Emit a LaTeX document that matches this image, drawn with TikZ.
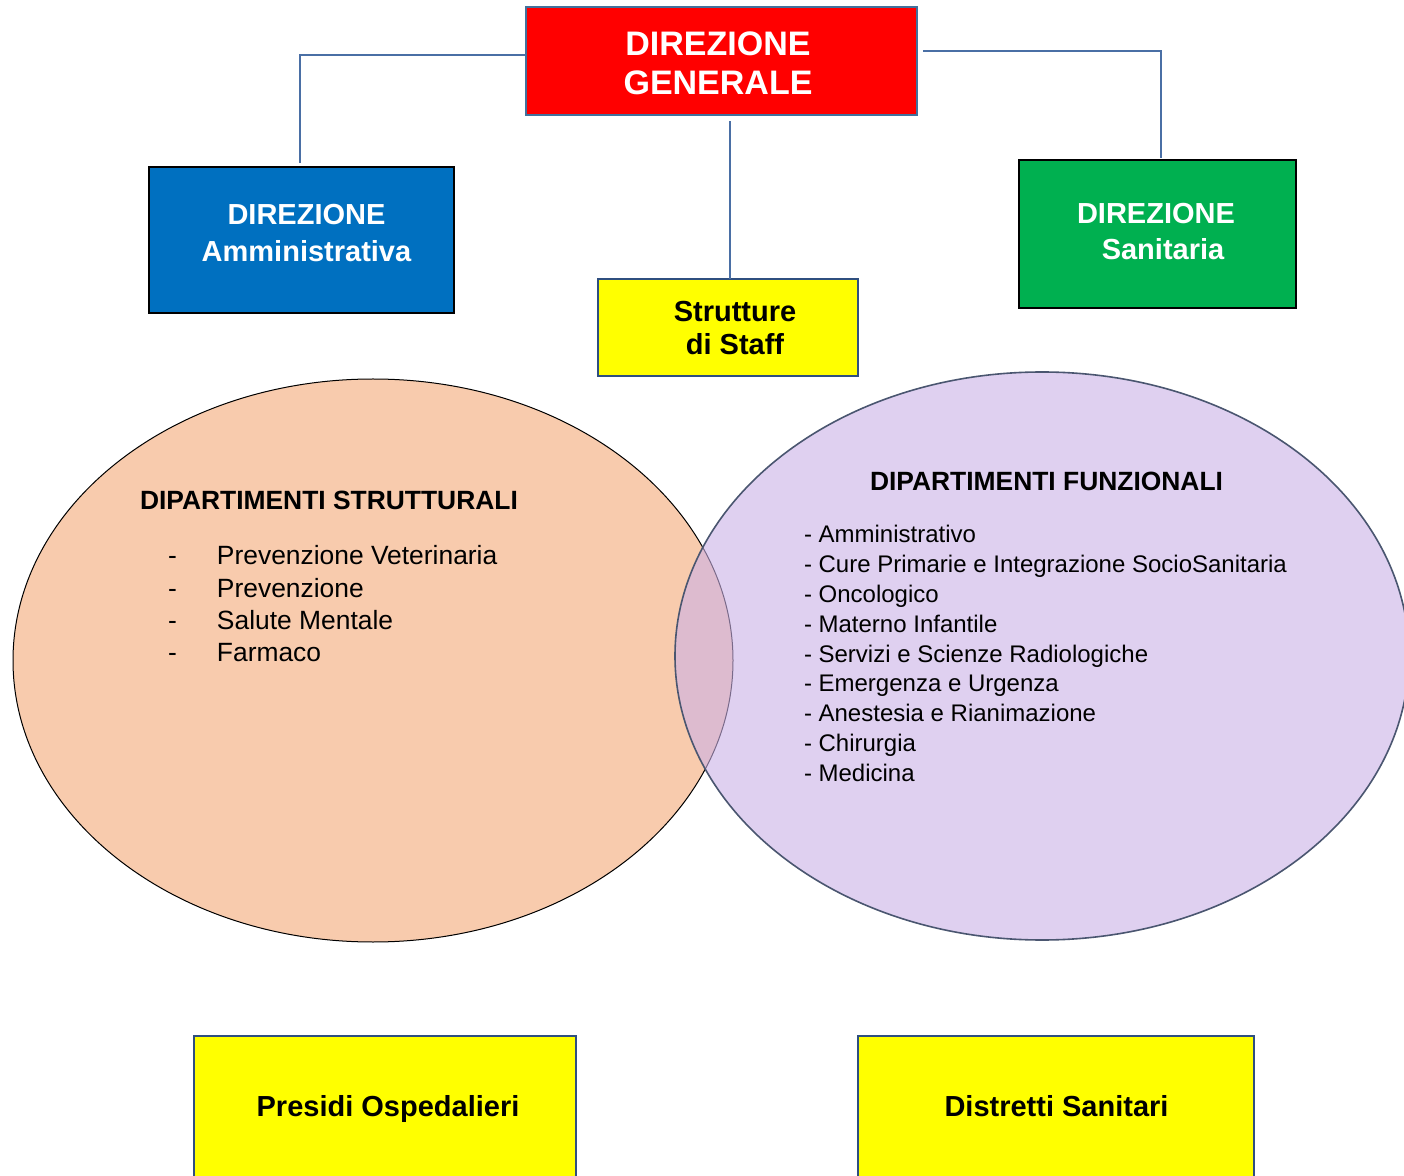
\documentclass[tikz,border=0pt]{standalone}
\usepackage{fontspec}
\setmainfont{Liberation Sans}
\usetikzlibrary{shapes.geometric}
\definecolor{dgred}{HTML}{FF0000}
\definecolor{dablue}{HTML}{0070C0}
\definecolor{dsgreen}{HTML}{00B050}
\definecolor{boxyellow}{HTML}{FFFF00}
\definecolor{connblue}{HTML}{4A6FA5}
\definecolor{edgeblue}{HTML}{2F4F7F}
\definecolor{dgedge}{HTML}{41719C}
\definecolor{peach}{HTML}{F8CBAD}
\definecolor{lilac}{RGB}{203,177,230}
\definecolor{lilacedge}{HTML}{4A5670}
\tikzset{
  box/.style={rectangle, inner sep=0pt, outer sep=0pt},
  conn/.style={draw=connblue, line width=0.6pt},
  txt/.style={inner sep=0pt, outer sep=0pt},
}
\begin{document}
\begin{tikzpicture}[x=0.5pt,y=-0.5pt]
\path[use as bounding box] (0,0) rectangle (1404,1176);
\clip (0,0) rectangle (1404,1176);
\fill[white] (0,0) rectangle (1404,1176);

% ellipses
\node[ellipse, fill=peach, draw=black, line width=0.5pt, minimum width=360pt, minimum height=281.5pt, inner sep=0pt] (strut) at (373,660.5) {};
\node[ellipse, fill=lilac, fill opacity=0.6, draw=lilacedge, draw opacity=1, line width=0.8pt, minimum width=367pt, minimum height=284pt, inner sep=0pt] (funz) at (1042,656) {};

% boxes
\node[box, fill=dgred, draw=dgedge, line width=0.7pt, minimum width=195.5pt, minimum height=54pt] (DG) at (721.5,61) {};
\node[box, fill=dablue, draw=black, line width=1pt, minimum width=152.5pt, minimum height=73pt] (DA) at (301.5,240) {};
\node[box, fill=boxyellow, draw=edgeblue, line width=1pt, minimum width=130pt, minimum height=48.5pt] (Staff) at (728,327.5) {};
\node[box, fill=dsgreen, draw=black, line width=1pt, minimum width=138.5pt, minimum height=74pt] (DS) at (1157.5,234) {};
\node[box, fill=boxyellow, draw=edgeblue, line width=1pt, minimum width=191pt, minimum height=77pt] (PO) at (385,1113) {};
\node[box, fill=boxyellow, draw=edgeblue, line width=1pt, minimum width=198pt, minimum height=77pt] (DSan) at (1056,1113) {};

% connectors
\draw[conn] ([yshift=3pt]DG.west) -| ([xshift=-0.75pt,yshift=2pt]DA.north);
\draw[conn] ([xshift=3pt,yshift=5pt]DG.east) -| ([xshift=1.75pt,yshift=1pt]DS.north);
\draw[conn] ([xshift=1pt]Staff.north) -- ++(0,-158) coordinate (staffTop);

% box texts
\node[txt, anchor=base, text=white] (DGt) at (718,56)
  {\fontsize{17}{19.5}\selectfont\bfseries\begin{tabular}[t]{@{}c@{}}DIREZIONE\\GENERALE\end{tabular}};
\node[txt, anchor=base, text=white] (DAt) at (306.5,225)
  {\fontsize{14.5}{18.5}\selectfont\bfseries\begin{tabular}[t]{@{}c@{}}DIREZIONE\\Amministrativa\end{tabular}};
\node[txt, anchor=base, text=black] (Stafft) at (735,322)
  {\fontsize{14.5}{16.5}\selectfont\bfseries\begin{tabular}[t]{@{}c@{}}Strutture\\di Staff\end{tabular}};
\node[txt, anchor=base, text=white] (DSt) at (1156,224)
  {\fontsize{14.5}{18}\selectfont\bfseries\begin{tabular}[t]{@{}c@{}}DIREZIONE\\\hspace*{7pt}Sanitaria\end{tabular}};
\node[txt, anchor=base, text=black] (POt) at (388,1116)
  {\fontsize{14.5}{17}\selectfont\bfseries Presidi Ospedalieri};
\node[txt, anchor=base, text=black] (DSant) at (1056.5,1116)
  {\fontsize{14.5}{17}\selectfont\bfseries Distretti Sanitari};

% ellipse texts
\node[txt, anchor=base west] (sh) at (140,510)
  {\fontsize{13.2}{16}\selectfont\bfseries DIPARTIMENTI STRUTTURALI};
\node[txt, anchor=base west] (sl) at (168,565)
  {\fontsize{13.2}{16.15}\selectfont\begin{tabular}[t]{@{}l@{\hspace{20.1pt}}l@{}}
  -& Prevenzione Veterinaria\\
  -& Prevenzione\\
  -& Salute Mentale\\
  -& Farmaco
  \end{tabular}};
\node[txt, anchor=base] (fh) at (1046.5,491)
  {\fontsize{13.2}{16}\selectfont\bfseries DIPARTIMENTI FUNZIONALI};
\node[txt, anchor=base west] (fl) at (804,543)
  {\fontsize{12}{14.9}\selectfont\begin{tabular}[t]{@{}l@{}}
  - Amministrativo\\
  - Cure Primarie e Integrazione SocioSanitaria\\
  - Oncologico\\
  - Materno Infantile\\
  - Servizi e Scienze Radiologiche\\
  - Emergenza e Urgenza\\
  - Anestesia e Rianimazione\\
  - Chirurgia\\
  - Medicina
  \end{tabular}};
\end{tikzpicture}
\end{document}
